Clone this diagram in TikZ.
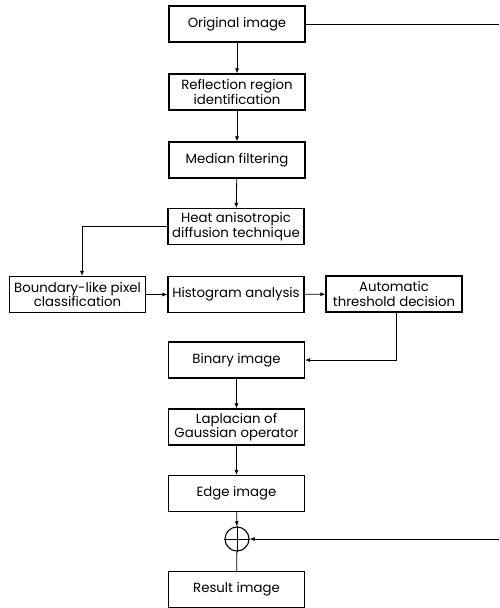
\documentclass[tikz,border=0pt]{standalone}
\usepackage{fontspec}
\setmainfont{Poppins}
\usetikzlibrary{arrows.meta}
\tikzset{
	stepbox/.style = {draw, line width=1.1pt, minimum width=136pt, minimum height=36pt, inner sep=0.5pt, align=center, font=\fontsize{13.3}{14.5}\selectfont},
	flow/.style = {line width=0.8pt, -{Latex[length=5pt, width=4pt]}}
}
\begin{document}
\begin{tikzpicture}[x = 1pt, y = -1pt]
			\useasboundingbox (0,0) rectangle (499,608);
			\node[stepbox] (orig) at (237,24) {Original image};
			\node[stepbox] (refl) at (237,92) {Reflection region\\identification};
			\node[stepbox] (med) at (237,160) {Median filtering};
			\node[stepbox] (heat) at (236,226.5) {Heat anisotropic\\diffusion technique};
			\node[stepbox] (bound) at (77.5,294.5) {Boundary-like pixel\\classification};
			\node[stepbox] (hist) at (236,294.5) {Histogram analysis};
			\node[stepbox] (auto) at (394,294) {Automatic\\threshold decision};
			\node[stepbox] (bin) at (236.5,360) {Binary image};
			\node[stepbox] (lap) at (236.5,427) {Laplacian of\\Gaussian operator};
			\node[stepbox] (edge) at (236.5,493.5) {Edge image};
			\node[circle, draw, line width=1.1pt, minimum size=24pt, inner sep=0pt] (sum) at (237,539) {}; % adder
			\node[stepbox] (res) at (236.5,589.5) {Result image};
			\coordinate (fbtop) at (499,24);
			\coordinate (fbbot) at (499,539);
			\draw[line width=0.8pt] (sum.north) -- (sum.south) (sum.west) -- (sum.east);
			\draw[line width=0.8pt] (orig.east) -- (fbtop);
			\draw[flow] (orig) -- (refl);
			\draw[flow] (refl) -- (med);
			\draw[flow] (med) -- (heat);
			\draw[flow] (heat.west) -| ([xshift=4.5pt]bound.north);
			\draw[flow] (bound) -- (hist);
			\draw[flow] (hist) -- (auto);
			\draw[flow] ([xshift=2pt]auto.south) |- (bin.east);
			\draw[flow] (bin) -- (lap);
			\draw[flow] (lap) -- (edge);
			\draw[flow] (edge) -- (sum);
			\draw[flow] (fbbot) -- (sum.east);
			\draw[line width=0.8pt] (sum) -- (res);
		\end{tikzpicture}
\end{document}
